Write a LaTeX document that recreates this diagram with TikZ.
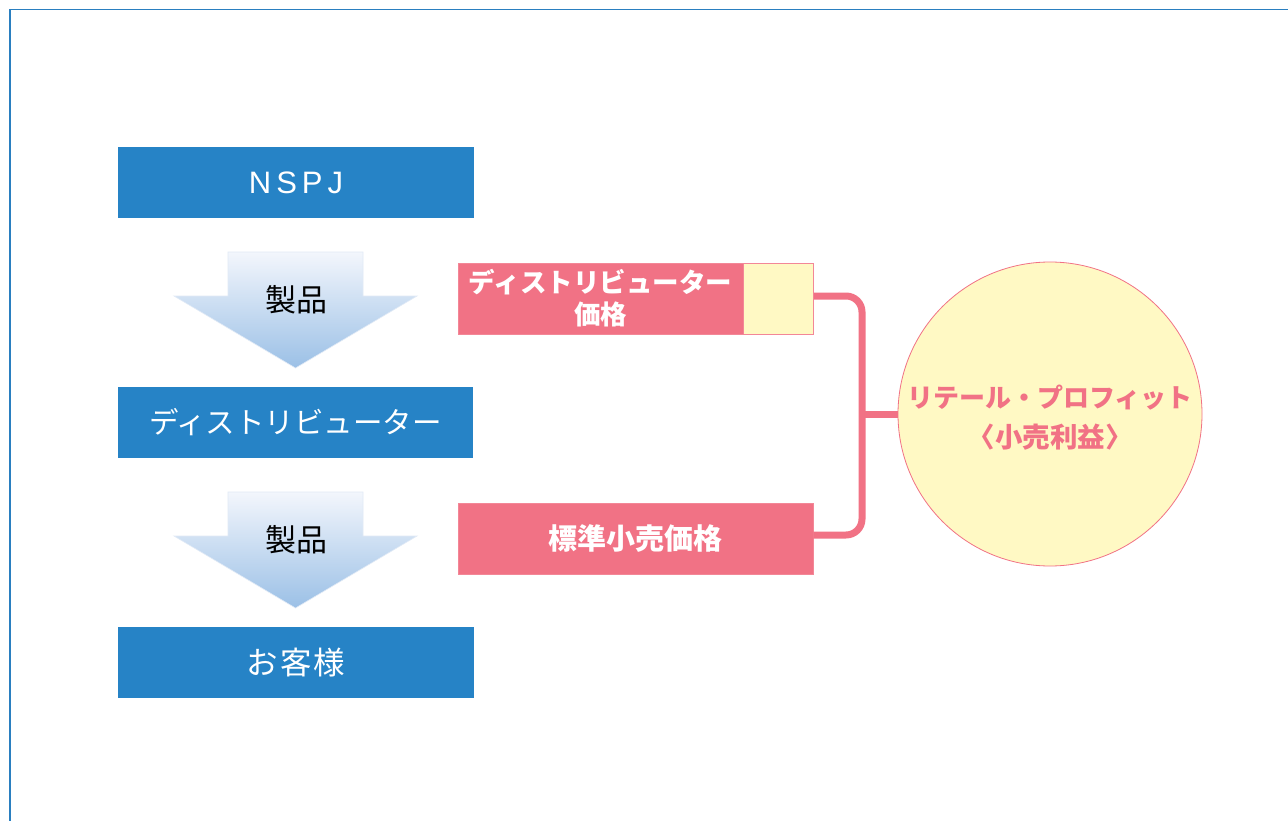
\documentclass[tikz,border=0pt]{standalone}
\usepackage{fontspec}
\setmainfont{Noto Sans CJK JP}
\newfontfamily\latinfont{Liberation Sans}
\usetikzlibrary{positioning}
\definecolor{bluebox}{RGB}{38,131,198}
\definecolor{pinkbox}{RGB}{241,114,133}
\definecolor{paleyel}{RGB}{255,249,196}
\definecolor{arrtop}{RGB}{243,246,252}
\definecolor{arrbot}{RGB}{155,192,230}
\definecolor{arredge}{RGB}{225,234,246}
\definecolor{frameblue}{RGB}{42,127,192}
\tikzset{
  bluestep/.style={fill=bluebox, text=white, inner sep=0pt, minimum width=355bp, minimum height=71bp,
    font=\fontsize{29.5bp}{32bp}\selectfont},
  pinkstep/.style={fill=pinkbox, draw=pinkbox!85!white, line width=0.8bp, text=white, inner sep=0pt,
    minimum height=71bp, align=center, font=\bfseries\fontsize{26.5bp}{32bp}\selectfont},
  yelcell/.style={fill=paleyel, draw=pinkbox!85!white, line width=0.8bp, inner sep=0pt,
    minimum width=70bp, minimum height=71bp},
  flowarrow/.style={top color=arrtop, bottom color=arrbot, draw=arredge, line width=0.6bp},
  arrlabel/.style={text=black, inner sep=0pt, font=\fontsize{31bp}{34bp}\selectfont},
  profit/.style={circle, fill=paleyel, draw=pinkbox, line width=0.8bp, minimum size=304bp, inner sep=0pt},
  profittext/.style={text=pinkbox, align=center, inner sep=0pt, font=\bfseries\fontsize{26bp}{40bp}\selectfont},
  bracket/.style={draw=pinkbox, line width=7bp, rounded corners=16bp}
}
\begin{document}
\begin{tikzpicture}[x=1bp, y=-1bp]
\useasboundingbox (0,0) rectangle (1288,821);
\fill[white] (0,0) rectangle (1288,821);
% frame
\draw[frameblue, line width=1.6bp] (10,823) -- (10,9.5) -- (1290,9.5);

% left column
\node[bluestep] (nspj) at (296,182.5) {\latinfont\fontsize{31bp}{32bp}\selectfont\addfontfeature{LetterSpace=16}NSPJ};
\shade[flowarrow] (228,252) -- (363,252) -- (363,296) -- (417,296) -- (295.5,368) -- (174,296) -- (228,296) -- cycle;
\node[arrlabel] (prod1) at (296,300) {製品};
\node[bluestep] (dist) at (295.5,422.5) {ディストリビューター};
\shade[flowarrow] (228,492) -- (363,492) -- (363,536) -- (417,536) -- (295.5,608) -- (174,536) -- (228,536) -- cycle;
\node[arrlabel] (prod2) at (296,540) {製品};
\node[bluestep] (cust) at (296,662.5) {\fontsize{31.5bp}{32bp}\selectfont\addfontfeature{LetterSpace=6}お客様};

% price boxes
\node[pinkstep, minimum width=285bp] (dprice) at (600.5,298.5) {ディストリビューター\\価格};
\node[yelcell, right=0pt of dprice] (dyel) {};
\node[pinkstep, minimum width=355bp, font=\bfseries\fontsize{29bp}{32bp}\selectfont] (sprice) at (635.5,538.5) {標準小売価格};

% profit circle
\node[profit] (prof) at (1050,414) {};
\node[profittext] (proftxt) at (1050,418) {リテール・プロフィット\\{\fontsize{27.5bp}{40bp}\selectfont 〈小売利益〉}};

% bracket connector
\coordinate (jn) at (862,414);
\draw[bracket] (dyel.east |- 0,296) -- (862,296) -- (862,535) -- (sprice.east |- 0,535);
\draw[draw=pinkbox, line width=7bp] (jn) -- (prof.west);
\end{tikzpicture}
\end{document}
